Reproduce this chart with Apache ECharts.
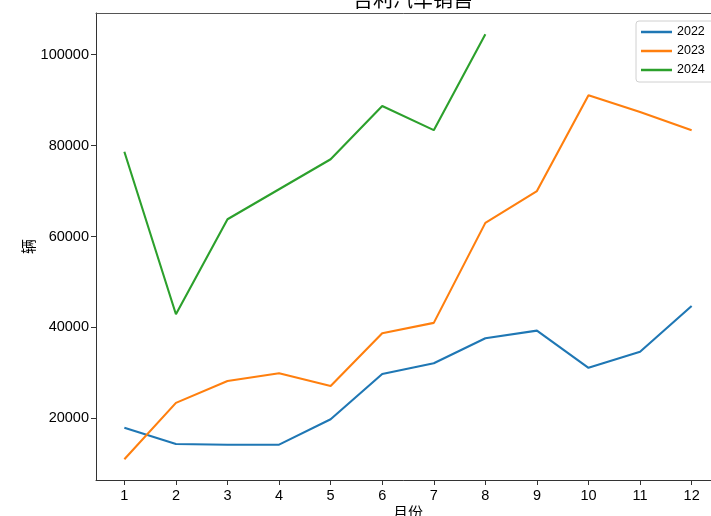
<!DOCTYPE html>
<html>
<head>
<meta charset="utf-8">
<script src="https://cdn.jsdelivr.net/npm/echarts@6/dist/echarts.min.js"></script>
<style>
html,body{margin:0;padding:0;background:#fff;}
#chart{width:711px;height:516px;}
</style>
</head>
<body>
<div id="chart"></div>
<script>
var months = [1,2,3,4,5,6,7,8,9,10,11,12];
var seriesNames = ['2022','2023','2024'];
var sales2022 = [17900, 14350, 14200, 14200, 19800, 29750, 32100, 37600, 39300, 31100, 34650, 44700];
var sales2023 = [10980, 23400, 28200, 29900, 27100, 38700, 41000, 63000, 70000, 91100, 87400, 83400];
var sales2024 = [78650, 42900, 63800, 70400, 77000, 88700, 83400, 104500];
var yTicks = [20000, 40000, 60000, 80000, 100000];
var colors = ['#1f77b4', '#ff7f0e', '#2ca02c'];

function pairs(vals){ return vals.map(function(v,i){ return [months[i], v]; }); }
var allData = [sales2022, sales2023, sales2024];

var chart = echarts.init(document.getElementById('chart'), null, {renderer:'canvas'});
var tickFont = {fontFamily:'Liberation Sans, Arial, sans-serif', fontSize:14.5, color:'#000'};
chart.setOption({
  animation:false,
  backgroundColor:'#fff',
  title:{
    text:'吉利汽车销售', left:408, textAlign:'center', top:-16,
    textStyle:{fontFamily:'Noto Sans CJK SC', fontSize:20, fontWeight:'normal', color:'#000'}
  },
  legend:{
    data: seriesNames.map(function(n){ return {name:n, icon:'rect'}; }),
    orient:'vertical', left:636, top:21,
    itemWidth:31, itemHeight:2.5, itemGap:5, itemTextGap:10,
    padding:[4,30,5,5],
    backgroundColor:'#fff', borderColor:'#d0d0d0', borderWidth:1, borderRadius:3,
    textStyle:{fontFamily:'Liberation Sans, Arial, sans-serif', fontSize:12.5, lineHeight:14, color:'#000'}
  },
  grid:{left:96, top:13, width:624, height:467, outerBoundsMode:'none', containLabel:false, show:false},
  xAxis:[{
    type:'value', min:0.45, max:12.55,
    name:'月份', nameLocation:'middle', nameGap:25, nameMoveOverlap:false,
    nameTextStyle:{fontFamily:'Noto Sans CJK SC', fontSize:15, color:'#000', verticalAlign:'top'},
    axisLine:{show:true, lineStyle:{color:'#333', width:1}},
    axisTick:{show:true, length:5, lineStyle:{color:'#333'}, customValues:months},
    axisLabel:Object.assign({margin:8, customValues:months, formatter:function(v){return String(v);}}, tickFont),
    splitLine:{show:false}
  },{
    type:'value', position:'top', min:0.45, max:12.55,
    axisLine:{show:true, onZero:false, lineStyle:{color:'#555', width:1}},
    axisTick:{show:false}, axisLabel:{show:false}, splitLine:{show:false}
  }],
  yAxis:{
    type:'value', min:6430, max:109170,
    name:'辆', nameLocation:'middle', nameGap:60, nameRotate:90, nameMoveOverlap:false,
    nameTextStyle:{fontFamily:'Noto Sans CJK SC', fontSize:15, color:'#000'},
    axisLine:{show:true, lineStyle:{color:'#333', width:1}},
    axisTick:{show:true, length:5, lineStyle:{color:'#333'}, customValues:yTicks},
    axisLabel:Object.assign({margin:7, customValues:yTicks, formatter:function(v){return String(v);}}, tickFont),
    splitLine:{show:false}
  },
  series: seriesNames.map(function(n,i){
    return {
      name:n, type:'line', data:pairs(allData[i]), showSymbol:false, symbol:'none',
      xAxisIndex:0, lineStyle:{color:colors[i], width:2.1}, itemStyle:{color:colors[i]}, z:2+i
    };
  })
});
</script>
</body>
</html>
